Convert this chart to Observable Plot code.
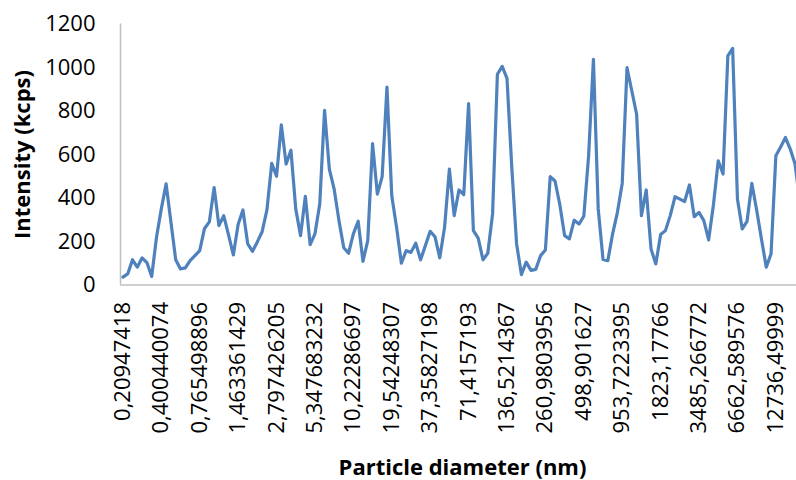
<!DOCTYPE html>
<html><head><meta charset="utf-8">
<script src="https://cdn.jsdelivr.net/npm/d3@7"></script>
<script src="https://cdn.jsdelivr.net/npm/@observablehq/plot@0.6"></script>
<style>body{margin:0;overflow:hidden;background:#fff}</style>
</head><body><div id="chart"></div>
<script>
const tickLabels = ["0,20947418","0,400440074","0,765498896","1,463361429","2,797426205","5,347683232","10,22286697","19,54248307","37,35827198","71,4157193","136,5214367","260,9803956","498,901627","953,7223395","1823,17766","3485,266772","6662,589576","12736,49999"];
const tickEvery = 8;
const intensity = [36,51,116,82,125,103,39,220,350,465,
290,116,74,79,112,135,158,260,290,448,
273,319,230,138,278,345,189,155,198,245,
345,559,500,736,556,620,350,227,408,186,
235,372,803,533,441,296,171,146,235,293,
109,204,650,418,498,910,410,265,100,158,
150,192,116,181,247,222,125,265,533,319,
437,415,834,250,216,116,146,327,969,1005,
950,540,189,48,105,67,72,135,161,498,
478,370,227,212,298,280,316,594,1038,350,
118,112,235,334,467,999,892,785,319,437,
166,97,232,250,319,406,395,384,460,314,
334,296,207,369,571,510,1053,1088,395,258,
293,467,345,212,82,143,594,635,678,625,
556,380];
const yTicks = [0,200,400,600,800,1000,1200];
const yTitle = "Intensity (kcps)";
const xTitle = "Particle diameter (nm)";
const data = intensity.map((v,i)=>({i, v}));
const chart = Plot.plot({
  width:796, height:480, marginLeft:120, marginRight:0, marginTop:23.5, marginBottom:195.5,
  style:{fontFamily:"'Open Sans', sans-serif", fontSize:"22px", color:"#000", background:"#fff"},
  x:{type:"linear", domain:[-0.5,140.3]},
  y:{domain:[0,1200]},
  marks:[
    Plot.ruleX([-0.5], {stroke:"#bfbfbf", strokeWidth:1.5}),
    Plot.ruleY([0], {stroke:"#bfbfbf", strokeWidth:1.5}),
    Plot.axisY({ticks:yTicks, tickSize:0, tickPadding:25, label:null, tickFormat:d=>String(d), fill:"#000"}),
    Plot.axisX({ticks:tickLabels.map((_,k)=>k*tickEvery), tickFormat:d=>tickLabels[Math.round(d/tickEvery)], tickRotate:-90, tickSize:0, tickPadding:17, label:null, fill:"#000"}),
    Plot.line(data, {x:"i", y:"v", stroke:"#4f81bd", strokeWidth:3.2, strokeLinejoin:"round", clip:true}),
    Plot.text([yTitle], {frameAnchor:"left", dx:-98, rotate:-90, textAnchor:"middle", lineAnchor:"middle", text:d=>d, fontWeight:"bold", fontSize:22, fill:"#000"}),
    Plot.text([xTitle], {frameAnchor:"bottom", dx:4, dy:183, textAnchor:"middle", lineAnchor:"middle", text:d=>d, fontWeight:"bold", fontSize:22, fill:"#000"})
  ]
});
document.getElementById("chart").appendChild(chart);
</script>
</body></html>
